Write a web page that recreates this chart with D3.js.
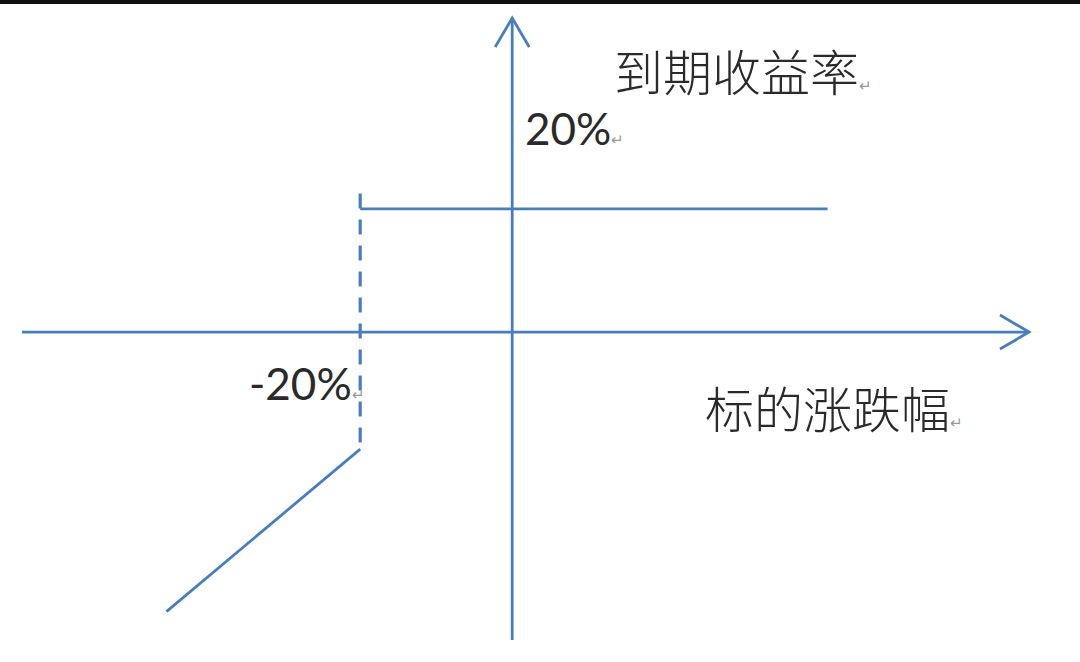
<!DOCTYPE html>
<html>
<head>
<meta charset="utf-8">
<script src="https://cdn.jsdelivr.net/npm/d3@7"></script>
<style>
  body { margin: 0; background: #fff; }
  svg { display: block; }
</style>
</head>
<body>
<div id="chart"></div>
<script>
var width = 1080;
var height = 662;

// payoff pieces, in % (underlying move -> return at expiry)
var capLine = [[-20, 20], [41.5, 20]];
var lossLine = [[-45.5, -45.4], [-20, -19]];
var knockLine = [[-20, 22.5], [-20, -19]];

// axis extents, in %
var xExtent = [-64.5, 68];
var yExtent = [-50, 51];

var xTitle = "标的涨跌幅";
var yTitle = "到期收益率";
var capLabel = "20%";
var knockLabel = "-20%";

var blue = "#4a7ebb";

var svg = d3.select("#chart")
  .append("svg")
    .attr("width", width)
    .attr("height", height);

var x = d3.scaleLinear().domain(xExtent).range([22, 1029]);
var y = d3.scaleLinear().domain(yExtent).range([640, 18]);

var line = d3.line()
  .x(function(d) { return x(d[0]); })
  .y(function(d) { return y(d[1]); });

// black strip along the top of the picture
svg.append("rect")
  .attr("x", 0).attr("y", 0)
  .attr("width", width).attr("height", 4)
  .attr("fill", "#111");

// axes
svg.append("path")
  .attr("d", line([[xExtent[0], 0], [xExtent[1], 0]]))
  .attr("stroke", blue).attr("stroke-width", 2.8).attr("fill", "none");

svg.append("path")
  .attr("d", line([[0, yExtent[0]], [0, yExtent[1]]]))
  .attr("stroke", blue).attr("stroke-width", 2.8).attr("fill", "none");

// open arrow heads
var xt = x(xExtent[1]), yt = y(0);
svg.append("path")
  .attr("d", "M" + (xt - 29) + "," + (yt - 17) + "L" + xt + "," + yt + "L" + (xt - 29) + "," + (yt + 17))
  .attr("stroke", blue).attr("stroke-width", 2.8).attr("fill", "none");

var ux = x(0), uy = y(yExtent[1]);
svg.append("path")
  .attr("d", "M" + (ux - 17) + "," + (uy + 29) + "L" + ux + "," + uy + "L" + (ux + 17) + "," + (uy + 29))
  .attr("stroke", blue).attr("stroke-width", 2.8).attr("fill", "none");

// payoff lines
svg.append("path")
  .attr("d", line(capLine))
  .attr("stroke", blue).attr("stroke-width", 2.8).attr("fill", "none");

svg.append("path")
  .attr("d", line(lossLine))
  .attr("stroke", blue).attr("stroke-width", 2.8).attr("fill", "none");

svg.append("path")
  .attr("d", line(knockLine))
  .attr("stroke", blue).attr("stroke-width", 3.2).attr("fill", "none")
  .attr("stroke-dasharray", "15,11");

// labels
function label(txt, px, py, size, font, weight) {
  var t = svg.append("text")
    .attr("x", px).attr("y", py)
    .attr("fill", "#2a2a2a")
    .style("font-family", font)
    .style("font-weight", weight)
    .style("font-size", size + "px");
  t.append("tspan").text(txt);
  t.append("tspan")
    .attr("fill", "#999")
    .style("font-size", "15px")
    .text("↵");
}

var cjk = "'Noto Sans CJK SC', sans-serif";
var num = "Lato, 'Open Sans', sans-serif";

label(yTitle, 614, 91, 49, cjk, 300);
label(capLabel, 525, 145, 44, num, 400);
label(knockLabel, 249, 400, 44, num, 400);
label(xTitle, 705, 428, 49, cjk, 300);
</script>
</body>
</html>
